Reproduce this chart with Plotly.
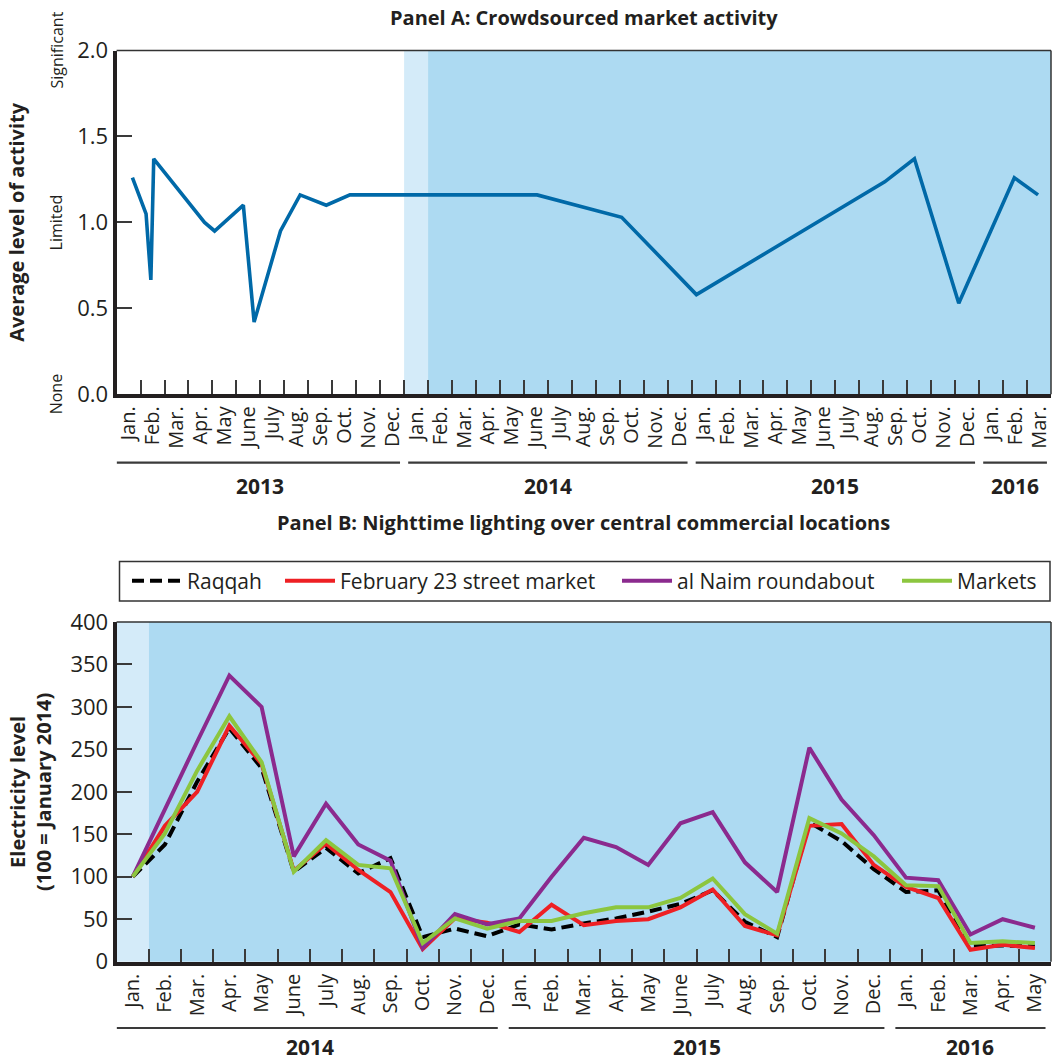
import plotly.graph_objects as go

# ---------------- Panel A data (month index from Jan 2013 = 0.0) ----------------
a_month_pos = [0.66, 1.23, 1.43, 1.55, 3.67, 4.09, 5.29, 5.74, 6.84, 7.66, 8.75, 9.74,
               17.55, 21.08, 24.2, 32.06, 33.3, 35.15, 37.47, 38.46]
a_activity = [1.26, 1.05, 0.665, 1.37, 1.0, 0.95, 1.10, 0.42, 0.95, 1.16, 1.10, 1.16,
              1.16, 1.03, 0.58, 1.236, 1.37, 0.53, 1.26, 1.16]
a_years = ["2013", "2014", "2015", "2016"]
a_year_months = [12, 12, 12, 3]

month_names = ["Jan.", "Feb.", "Mar.", "Apr.", "May", "June", "July", "Aug.", "Sep.", "Oct.", "Nov.", "Dec."]
a_month_labels = (month_names * 4)[:39]

a_yticks = [0.0, 0.5, 1.0, 1.5, 2.0]
a_level_labels = ["None", "Limited", "Significant"]
a_level_values = [0.0, 1.0, 2.0]

# ---------------- Panel B data (Jan 2014 .. May 2016) ----------------
b_month_labels = (month_names * 3)[:29]
b_years = ["2014", "2015", "2016"]
b_year_months = [12, 12, 5]
raqqah = [100, 138, 212, 275, 228, 106, 134, 104, 122, 29, 39, 30,
          44, 38, 45, 51, 59, 68, 84, 47, 29, 164, 142, 109, 82, 84, 18, 19, 18]
feb23 = [100, 160, 200, 278, 233, 107, 139, 108, 82, 15, 51, 46,
         35, 67, 43, 48, 50, 64, 85, 42, 31, 160, 162, 114, 88, 75, 14, 20, 16]
alnaim = [100, 180, 259, 337, 300, 124, 186, 138, 119, 16, 56, 44,
          51, 100, 146, 135, 114, 163, 176, 117, 82, 252, 191, 149, 99, 96, 32, 50, 40]
markets = [100, 151, 225, 289, 235, 106, 143, 114, 110, 22, 51, 39,
           48, 48, 57, 64, 64, 75, 98, 56, 33, 169, 151, 124, 90, 89, 22, 24, 22]
b_series_names = ["Raqqah", "February 23 street market", "al Naim roundabout", "Markets"]
b_yticks = [0, 50, 100, 150, 200, 250, 300, 350, 400]

# ---------------- styling ----------------
W, H = 1052, 1063
FONT = "Open Sans"
LIGHT = "#D4EBF9"
SHADE = "#ADDAF2"
AX = "#231F20"
TICKC = "#3a3a3a"
TXT = "#231F20"

def px_x(p):
    return p / W

def px_y(p):
    return 1 - p / H

x_dom = [px_x(116.6), px_x(1051)]
a_dom = [px_y(394.3), px_y(50.5)]
b_dom = [px_y(961.7), px_y(622)]

fig = go.Figure()

# Panel A line
fig.add_trace(go.Scatter(x=a_month_pos, y=a_activity, mode="lines",
                         line=dict(color="#0069A8", width=3.6),
                         xaxis="x", yaxis="y", showlegend=False, hoverinfo="skip"))

# Panel B lines (each in its own legend so entries can be spaced like the original)
b_x = [i + 0.5 for i in range(len(b_month_labels))]
styles = [dict(color="black", width=4, dash="12px,6px"),
          dict(color="#EE2024", width=4),
          dict(color="#8B2A8E", width=4),
          dict(color="#8CC63F", width=4)]
legend_ids = ["legend", "legend2", "legend3", "legend4"]
legend_left_px = [127, 280, 617, 897]
for name, vals, st, lg in zip(b_series_names, [raqqah, feb23, alnaim, markets], styles, legend_ids):
    fig.add_trace(go.Scatter(x=b_x, y=vals, mode="lines", name=name, line=st,
                             xaxis="x2", yaxis="y2", hoverinfo="skip", legend=lg))

n_a = len(a_month_labels)
n_b = len(b_month_labels)

common_x = dict(showgrid=False, zeroline=False, showline=True, linecolor=AX, linewidth=4,
                ticks="", tickangle=-90, tickfont=dict(family=FONT, size=20, color=TXT),
                domain=x_dom, fixedrange=True, automargin=False)

legend_common = dict(orientation="h", xanchor="left", y=px_y(581), yanchor="middle",
                     bgcolor="rgba(0,0,0,0)", borderwidth=0,
                     font=dict(family=FONT, size=21, color=TXT), itemwidth=50)

fig.update_layout(
    template="none",
    width=W, height=H, autosize=False,
    margin=dict(l=0, r=0, t=0, b=0, pad=0, autoexpand=False),
    paper_bgcolor="white", plot_bgcolor="white",
    font=dict(family=FONT, color=TXT),
    xaxis=dict(common_x, anchor="y", range=[0, n_a],
               tickmode="array", tickvals=[i + 0.5 for i in range(n_a)], ticktext=a_month_labels,
               minor=dict(tickmode="array", tickvals=list(range(1, n_a)), ticks="inside",
                          ticklen=14, tickwidth=1.6, tickcolor=TICKC, showgrid=False)),
    yaxis=dict(domain=a_dom, anchor="x", range=[0, 2], showgrid=False, zeroline=False,
               showline=True, linecolor=AX, linewidth=4, automargin=False,
               tickmode="array", tickvals=a_yticks, ticktext=[f"{v:.1f}" for v in a_yticks],
               ticks="inside", ticklen=15, tickwidth=1.6, tickcolor=TICKC,
               tickfont=dict(family=FONT, size=22, color=TXT),
               title=dict(text="<b>Average level of activity</b>", standoff=48,
                          font=dict(family=FONT, size=20, color=TXT)),
               fixedrange=True),
    xaxis2=dict(common_x, anchor="y2", range=[0, n_b],
                tickmode="array", tickvals=b_x, ticktext=b_month_labels,
                minor=dict(tickmode="array", tickvals=list(range(1, n_b)), ticks="inside",
                           ticklen=13, tickwidth=1.6, tickcolor=TICKC, showgrid=False)),
    yaxis2=dict(domain=b_dom, anchor="x2", range=[0, 400], showgrid=False, zeroline=False,
                showline=True, linecolor=AX, linewidth=4, automargin=False,
                tickmode="array", tickvals=b_yticks,
                ticks="inside", ticklen=15, tickwidth=1.6, tickcolor=TICKC,
                tickfont=dict(family=FONT, size=22, color=TXT),
                title=dict(text="<b>Electricity level<br>(100 = January 2014)</b>", standoff=14,
                           font=dict(family=FONT, size=20, color=TXT)),
                fixedrange=True),
    showlegend=True,
)
legend_layout = {}
for lg, lx in zip(legend_ids, legend_left_px):
    legend_layout[lg] = dict(legend_common, x=px_x(lx))
fig.update_layout(**legend_layout)

shapes = []
# shading panel A (Jan 2014 light, Feb 2014 onwards darker)
shapes.append(dict(type="rect", xref="x", yref="y domain", x0=12, x1=13, y0=0, y1=1,
                   fillcolor=LIGHT, line=dict(width=0), layer="below"))
shapes.append(dict(type="rect", xref="x", yref="y domain", x0=13, x1=n_a, y0=0, y1=1,
                   fillcolor=SHADE, line=dict(width=0), layer="below"))
# shading panel B
shapes.append(dict(type="rect", xref="x2", yref="y2 domain", x0=0, x1=1, y0=0, y1=1,
                   fillcolor=LIGHT, line=dict(width=0), layer="below"))
shapes.append(dict(type="rect", xref="x2", yref="y2 domain", x0=1, x1=n_b, y0=0, y1=1,
                   fillcolor=SHADE, line=dict(width=0), layer="below"))
# top/right thin borders
for xr, yr in [("x", "y"), ("x2", "y2")]:
    shapes.append(dict(type="line", xref=f"{xr} domain", yref=f"{yr} domain",
                       x0=0, x1=1, y0=1, y1=1, line=dict(color="#333333", width=1.5)))
    shapes.append(dict(type="line", xref=f"{xr} domain", yref=f"{yr} domain",
                       x0=1, x1=1, y0=0, y1=1, line=dict(color="#333333", width=1.5)))
# legend box
shapes.append(dict(type="rect", xref="paper", yref="paper", x0=px_x(119.5), x1=px_x(1050),
                   y0=px_y(601), y1=px_y(561.5), line=dict(color="#333333", width=1.5),
                   fillcolor="rgba(0,0,0,0)"))

annotations = []
# year groupings
def year_groups(xref, years, months, line_y, text_y):
    start = 0
    for yr, m in zip(years, months):
        end = start + m
        shapes.append(dict(type="line", xref=xref, yref="paper",
                           x0=start + (0.0 if start == 0 else 0.17), x1=end - 0.17,
                           y0=line_y, y1=line_y, line=dict(color="#3a3a3a", width=2.2)))
        annotations.append(dict(xref=xref, yref="paper", x=(start + end) / 2, y=text_y,
                                text=f"<b>{yr}</b>", showarrow=False, yanchor="middle",
                                font=dict(family=FONT, size=21, color=TXT)))
        start = end

year_groups("x", a_years, a_year_months, px_y(462.7), px_y(485.5))
year_groups("x2", b_years, b_year_months, px_y(1028), px_y(1047))

# level labels panel A
for lab, v in zip(a_level_labels, a_level_values):
    annotations.append(dict(xref="paper", yref="y", x=px_x(56), y=v, text=lab,
                            showarrow=False, textangle=-90, xanchor="center", yanchor="middle",
                            font=dict(family=FONT, size=16, color=TXT)))

# panel titles
mid = 0.5 * (x_dom[0] + x_dom[1])
annotations.append(dict(xref="paper", yref="paper", x=mid, y=px_y(17),
                        text="<b>Panel A: Crowdsourced market activity</b>", showarrow=False,
                        yanchor="middle", font=dict(family=FONT, size=20, color=TXT)))
annotations.append(dict(xref="paper", yref="paper", x=mid, y=px_y(523),
                        text="<b>Panel B: Nighttime lighting over central commercial locations</b>",
                        showarrow=False, yanchor="middle",
                        font=dict(family=FONT, size=20, color=TXT)))

fig.update_layout(shapes=shapes, annotations=annotations)

fig.write_html("out.html", config={"displayModeBar": False},
               post_script="document.body.style.margin='0';")
